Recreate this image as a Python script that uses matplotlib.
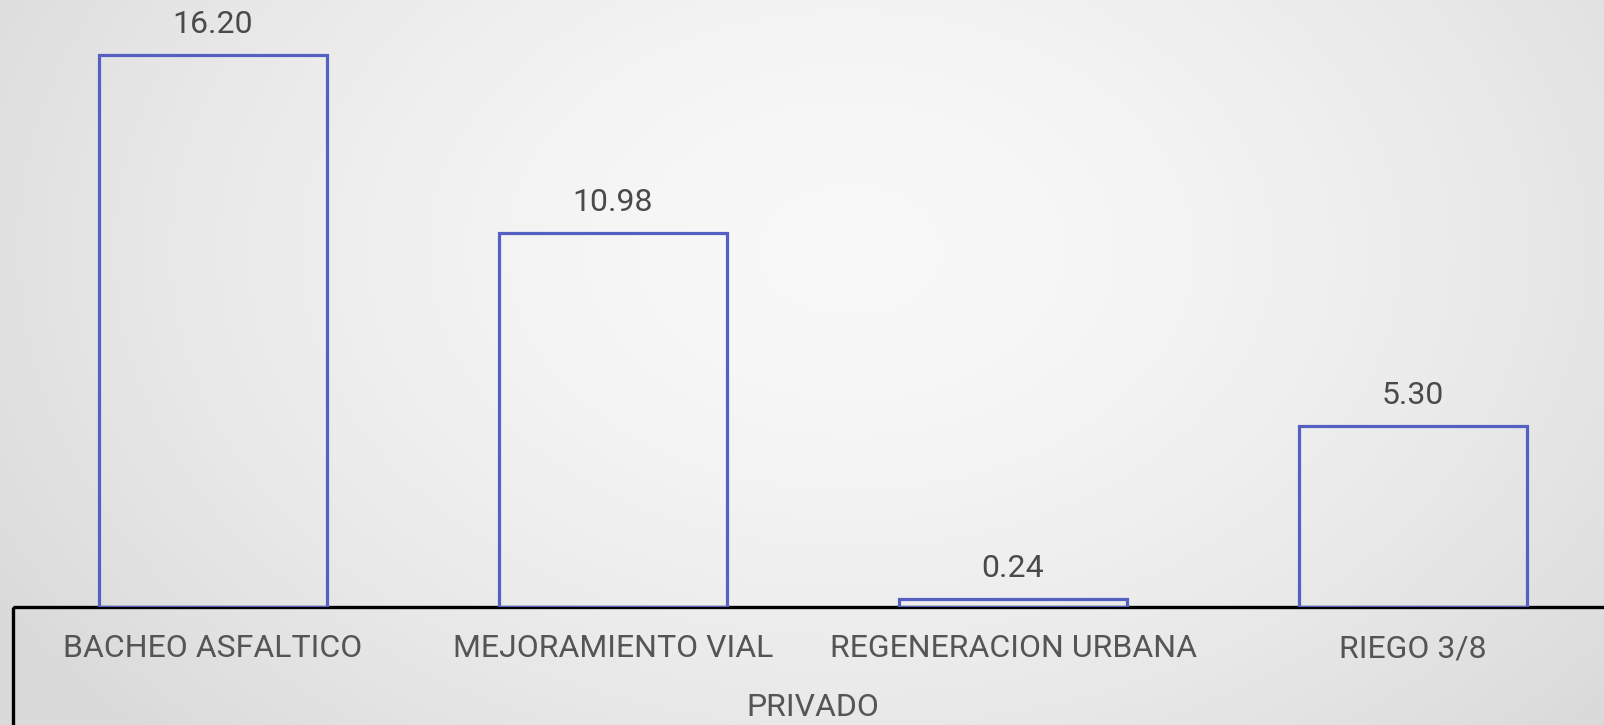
import numpy as np
import matplotlib
matplotlib.use("Agg")
from matplotlib import pyplot as plt
from matplotlib.patches import Rectangle
from matplotlib.transforms import blended_transform_factory

categories = ["BACHEO ASFALTICO", "MEJORAMIENTO VIAL", "REGENERACION URBANA", "RIEGO 3/8"]
values = [16.20, 10.98, 0.24, 5.30]
group_label = "PRIVADO"

plt.rcParams['font.family'] = ['Roboto', 'DejaVu Sans']

W, H = 1604, 725
fig = plt.figure(figsize=(W / 100, H / 100), dpi=100)

# fondo con degradado radial
bg = fig.add_axes([0, 0, 1, 1])
yy, xx = np.mgrid[0:H, 0:W]
r = np.sqrt(((xx - 850) / 1000.0) ** 2 + ((yy - 250) / 700.0) ** 2)
r = np.clip(r, 0, 1)
shade = 0.975 - 0.12 * r ** 1.6
bg.imshow(np.dstack([shade] * 3), extent=[0, W, H, 0], aspect='auto')
bg.set_xlim(0, W)
bg.set_ylim(H, 0)
bg.axis('off')

# caja inferior
bg.add_patch(Rectangle((13, 607), 2000, 300, fill=False, edgecolor='black', lw=2.4, zorder=3))

base_y = 607
left = 13
ax = fig.add_axes([left / W, (H - base_y) / H, 1600 / W, base_y / H])
ax.patch.set_alpha(0)
x = np.arange(len(categories))
ax.bar(x, values, width=0.57, fill=False, edgecolor='#5561c2', linewidth=2.3, zorder=2)
ax.set_xlim(-0.5, 3.5)
ax.set_ylim(0, base_y / 34.07)
for s in ax.spines.values():
    s.set_visible(False)
ax.set_xticks([])
ax.set_yticks([])

for xi, v in zip(x, values):
    ax.annotate(f"{v:.2f}", (xi, v), xytext=(0, 22), textcoords='offset points',
                ha='center', va='center', fontsize=23, color='#4a4a4a')

trans = blended_transform_factory(ax.transData, ax.transAxes)
for xi, c in zip(x, categories):
    ax.annotate(c, (xi, 0), xycoords=trans, xytext=(0, -30), textcoords='offset points',
                ha='center', va='center', fontsize=23, color='#555555', annotation_clip=False)
ax.annotate(group_label, (1.5, 0), xycoords=trans, xytext=(0, -72), textcoords='offset points',
            ha='center', va='center', fontsize=23, color='#555555', annotation_clip=False)

plt.savefig("out.png", dpi=100)
